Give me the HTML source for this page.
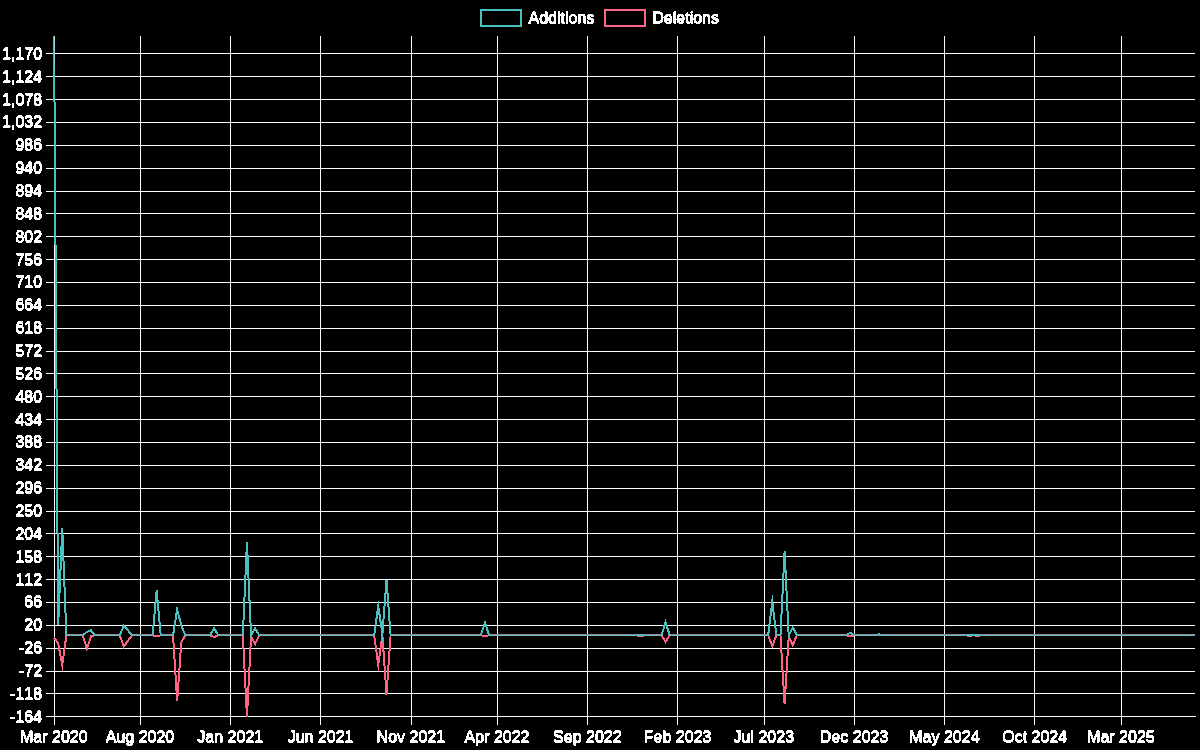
<!DOCTYPE html>
<html lang="en"><head><meta charset="utf-8"><title>Code frequency</title>
<style>html,body{margin:0;padding:0;background:#000;overflow:hidden}svg{display:block}text{font-family:"Liberation Sans",sans-serif;font-size:16px;fill:#fff;font-kerning:none}.g{stroke:#fcfcfc;stroke-width:1;shape-rendering:crispEdges}</style></head><body>
<svg width="1200" height="750" viewBox="0 0 1200 750">
<rect width="1200" height="750" fill="#000"/>
<g class="g">
<line x1="54.5" y1="36" x2="54.5" y2="724.8"/>
<line x1="140.5" y1="36" x2="140.5" y2="724.8"/>
<line x1="230.5" y1="36" x2="230.5" y2="724.8"/>
<line x1="320.5" y1="36" x2="320.5" y2="724.8"/>
<line x1="411.5" y1="36" x2="411.5" y2="724.8"/>
<line x1="497.5" y1="36" x2="497.5" y2="724.8"/>
<line x1="587.5" y1="36" x2="587.5" y2="724.8"/>
<line x1="677.5" y1="36" x2="677.5" y2="724.8"/>
<line x1="764.5" y1="36" x2="764.5" y2="724.8"/>
<line x1="854.5" y1="36" x2="854.5" y2="724.8"/>
<line x1="944.5" y1="36" x2="944.5" y2="724.8"/>
<line x1="1034.5" y1="36" x2="1034.5" y2="724.8"/>
<line x1="1121.5" y1="36" x2="1121.5" y2="724.8"/>
<line x1="46.05" y1="716.5" x2="1196" y2="716.5"/>
<line x1="46.05" y1="693.5" x2="1195" y2="693.5"/>
<line x1="46.05" y1="671.5" x2="1195" y2="671.5"/>
<line x1="46.05" y1="648.5" x2="1195" y2="648.5"/>
<line x1="46.05" y1="625.5" x2="1195" y2="625.5"/>
<line x1="46.05" y1="602.5" x2="1195" y2="602.5"/>
<line x1="46.05" y1="579.5" x2="1195" y2="579.5"/>
<line x1="46.05" y1="556.5" x2="1195" y2="556.5"/>
<line x1="46.05" y1="533.5" x2="1195" y2="533.5"/>
<line x1="46.05" y1="511.5" x2="1195" y2="511.5"/>
<line x1="46.05" y1="488.5" x2="1195" y2="488.5"/>
<line x1="46.05" y1="465.5" x2="1195" y2="465.5"/>
<line x1="46.05" y1="442.5" x2="1195" y2="442.5"/>
<line x1="46.05" y1="419.5" x2="1195" y2="419.5"/>
<line x1="46.05" y1="396.5" x2="1195" y2="396.5"/>
<line x1="46.05" y1="373.5" x2="1195" y2="373.5"/>
<line x1="46.05" y1="351.5" x2="1195" y2="351.5"/>
<line x1="46.05" y1="328.5" x2="1195" y2="328.5"/>
<line x1="46.05" y1="305.5" x2="1195" y2="305.5"/>
<line x1="46.05" y1="282.5" x2="1195" y2="282.5"/>
<line x1="46.05" y1="259.5" x2="1195" y2="259.5"/>
<line x1="46.05" y1="236.5" x2="1195" y2="236.5"/>
<line x1="46.05" y1="213.5" x2="1195" y2="213.5"/>
<line x1="46.05" y1="191.5" x2="1195" y2="191.5"/>
<line x1="46.05" y1="168.5" x2="1195" y2="168.5"/>
<line x1="46.05" y1="145.5" x2="1195" y2="145.5"/>
<line x1="46.05" y1="122.5" x2="1195" y2="122.5"/>
<line x1="46.05" y1="99.5" x2="1195" y2="99.5"/>
<line x1="46.05" y1="76.5" x2="1195" y2="76.5"/>
<line x1="46.05" y1="53.5" x2="1195" y2="53.5"/>
</g>
<defs><clipPath id="c"><rect x="53.05" y="36" width="1142.95" height="681.8"/></clipPath></defs>
<g clip-path="url(#c)" fill="none" stroke-width="2" stroke-linejoin="miter" stroke-miterlimit="10" stroke-linecap="butt" shape-rendering="crispEdges">
<path stroke="rgb(255,99,132)" d="M54.05 637.79 L58.15 643.25 L62.26 665.12 L66.36 635.3 L70.47 635.3 L74.57 635.3 L78.67 635.3 L82.78 635.3 L86.88 648.72 L90.99 636.3 L95.09 635.3 L99.2 635.3 L103.3 635.3 L107.4 635.3 L111.51 635.3 L115.61 635.3 L119.72 635.3 L123.82 646.73 L127.92 640.77 L132.03 635.3 L136.13 635.3 L140.24 635.3 L144.34 635.3 L148.45 635.3 L152.55 635.3 L156.65 636.3 L160.76 635.3 L164.86 635.3 L168.97 635.3 L173.07 635.3 L177.17 701.4 L181.28 642.26 L185.38 635.3 L189.49 635.3 L193.59 635.3 L197.69 635.3 L201.8 635.3 L205.9 635.3 L210.01 635.3 L214.11 637.04 L218.22 635.3 L222.32 635.3 L226.42 635.3 L230.53 635.3 L234.63 635.3 L238.74 635.3 L242.84 635.3 L246.94 716.8 L251.05 636.79 L255.15 644 L259.26 635.3 L263.36 635.3 L267.47 635.3 L271.57 635.3 L275.67 635.3 L279.78 635.3 L283.88 635.3 L287.99 635.3 L292.09 635.3 L296.19 635.3 L300.3 635.3 L304.4 635.3 L308.51 635.3 L312.61 635.3 L316.71 635.3 L320.82 635.3 L324.92 635.3 L329.03 635.3 L333.13 635.3 L337.24 635.3 L341.34 635.3 L345.44 635.3 L349.55 635.3 L353.65 635.3 L357.76 635.3 L361.86 635.3 L365.96 635.3 L370.07 635.3 L374.17 635.3 L378.28 665.12 L382.38 635.3 L386.49 694.44 L390.59 635.3 L394.69 635.3 L398.8 635.3 L402.9 635.3 L407.01 635.3 L411.11 635.3 L415.21 635.3 L419.32 635.3 L423.42 635.3 L427.53 635.3 L431.63 635.3 L435.73 635.3 L439.84 635.3 L443.94 635.3 L448.05 635.3 L452.15 635.3 L456.26 635.3 L460.36 635.3 L464.46 635.3 L468.57 635.3 L472.67 635.3 L476.78 635.3 L480.88 635.3 L484.98 636.3 L489.09 635.3 L493.19 635.3 L497.3 635.3 L501.4 635.3 L505.51 635.3 L509.61 635.3 L513.71 635.3 L517.82 635.3 L521.92 635.3 L526.03 635.3 L530.13 635.3 L534.23 635.3 L538.34 635.3 L542.44 635.3 L546.55 635.3 L550.65 635.3 L554.75 635.3 L558.86 635.3 L562.96 635.3 L567.07 635.3 L571.17 635.3 L575.28 635.3 L579.38 635.3 L583.48 635.3 L587.59 635.3 L591.69 635.3 L595.8 635.3 L599.9 635.3 L604 635.3 L608.11 635.3 L612.21 635.3 L616.32 635.3 L620.42 635.3 L624.52 635.3 L628.63 635.3 L632.73 635.3 L636.84 635.3 L640.94 636.5 L645.05 635.3 L649.15 635.3 L653.25 635.3 L657.36 635.3 L661.46 635.3 L665.57 641.76 L669.67 635.3 L673.77 635.3 L677.88 635.3 L681.98 635.3 L686.09 635.3 L690.19 635.3 L694.3 635.3 L698.4 635.3 L702.5 635.3 L706.61 635.3 L710.71 635.3 L714.82 635.3 L718.92 635.3 L723.02 635.3 L727.13 635.3 L731.23 635.3 L735.34 635.3 L739.44 635.3 L743.54 635.3 L747.65 635.3 L751.75 635.3 L755.86 635.3 L759.96 635.3 L764.07 635.3 L768.17 635.3 L772.27 646.24 L776.38 635.3 L780.48 635.3 L784.59 704.38 L788.69 636.79 L792.79 645.24 L796.9 635.3 L801 635.3 L805.11 635.3 L809.21 635.3 L813.32 635.3 L817.42 635.3 L821.52 635.3 L825.63 635.3 L829.73 635.3 L833.84 635.3 L837.94 635.3 L842.04 635.3 L846.15 635.3 L850.25 636.3 L854.36 635.3 L858.46 635.3 L862.56 635.3 L866.67 635.3 L870.77 635.3 L874.88 635.3 L878.98 635.3 L883.09 635.3 L887.19 635.3 L891.29 635.3 L895.4 635.3 L899.5 635.3 L903.61 635.3 L907.71 635.3 L911.81 635.3 L915.92 635.3 L920.02 635.3 L924.13 635.3 L928.23 635.3 L932.34 635.3 L936.44 635.3 L940.54 635.3 L944.65 635.3 L948.75 635.3 L952.86 635.3 L956.96 635.3 L961.06 635.3 L965.17 635.3 L969.27 635.9 L973.38 635.3 L977.48 635.9 L981.58 635.3 L985.69 635.3 L989.79 635.3 L993.9 635.3 L998 635.3 L1002.11 635.3 L1006.21 635.3 L1010.31 635.3 L1014.42 635.3 L1018.52 635.3 L1022.63 635.3 L1026.73 635.3 L1030.83 635.3 L1034.94 635.3 L1039.04 635.3 L1043.15 635.3 L1047.25 635.3 L1051.36 635.3 L1055.46 635.3 L1059.56 635.3 L1063.67 635.3 L1067.77 635.3 L1071.88 635.3 L1075.98 635.3 L1080.08 635.3 L1084.19 635.3 L1088.29 635.3 L1092.4 635.3 L1096.5 635.3 L1100.6 635.3 L1104.71 635.3 L1108.81 635.3 L1112.92 635.3 L1117.02 635.3 L1121.13 635.3 L1125.23 635.3 L1129.33 635.3 L1133.44 635.3 L1137.54 635.3 L1141.65 635.3 L1145.75 635.3 L1149.85 635.3 L1153.96 635.3 L1158.06 635.3 L1162.17 635.3 L1166.27 635.3 L1170.38 635.3 L1174.48 635.3 L1178.58 635.3 L1182.69 635.3 L1186.79 635.3 L1190.9 635.3 L1195 635.3"/>
<path stroke="rgb(75,192,192)" d="M54.05 36 L58.15 625.36 L62.26 528.46 L66.36 635.3 L70.47 635.3 L74.57 635.3 L78.67 635.3 L82.78 635.3 L86.88 631.82 L90.99 630.33 L95.09 635.3 L99.2 635.3 L103.3 635.3 L107.4 635.3 L111.51 635.3 L115.61 635.3 L119.72 635.3 L123.82 625.86 L127.92 630.33 L132.03 635.3 L136.13 635.3 L140.24 635.3 L144.34 635.3 L148.45 635.3 L152.55 635.3 L156.65 590.33 L160.76 635.3 L164.86 635.3 L168.97 635.3 L173.07 635.3 L177.17 609.46 L181.28 625.36 L185.38 635.3 L189.49 635.3 L193.59 635.3 L197.69 635.3 L201.8 635.3 L205.9 635.3 L210.01 635.3 L214.11 628.35 L218.22 635.3 L222.32 635.3 L226.42 635.3 L230.53 635.3 L234.63 635.3 L238.74 635.3 L242.84 635.3 L246.94 542.38 L251.05 635.3 L255.15 628.35 L259.26 635.3 L263.36 635.3 L267.47 635.3 L271.57 635.3 L275.67 635.3 L279.78 635.3 L283.88 635.3 L287.99 635.3 L292.09 635.3 L296.19 635.3 L300.3 635.3 L304.4 635.3 L308.51 635.3 L312.61 635.3 L316.71 635.3 L320.82 635.3 L324.92 635.3 L329.03 635.3 L333.13 635.3 L337.24 635.3 L341.34 635.3 L345.44 635.3 L349.55 635.3 L353.65 635.3 L357.76 635.3 L361.86 635.3 L365.96 635.3 L370.07 635.3 L374.17 635.3 L378.28 605.98 L382.38 634.31 L386.49 579.65 L390.59 635.3 L394.69 635.3 L398.8 635.3 L402.9 635.3 L407.01 635.3 L411.11 635.3 L415.21 635.3 L419.32 635.3 L423.42 635.3 L427.53 635.3 L431.63 635.3 L435.73 635.3 L439.84 635.3 L443.94 635.3 L448.05 635.3 L452.15 635.3 L456.26 635.3 L460.36 635.3 L464.46 635.3 L468.57 635.3 L472.67 635.3 L476.78 635.3 L480.88 635.3 L484.98 622.38 L489.09 635.3 L493.19 635.3 L497.3 635.3 L501.4 635.3 L505.51 635.3 L509.61 635.3 L513.71 635.3 L517.82 635.3 L521.92 635.3 L526.03 635.3 L530.13 635.3 L534.23 635.3 L538.34 635.3 L542.44 635.3 L546.55 635.3 L550.65 635.3 L554.75 635.3 L558.86 635.3 L562.96 635.3 L567.07 635.3 L571.17 635.3 L575.28 635.3 L579.38 635.3 L583.48 635.3 L587.59 635.3 L591.69 635.3 L595.8 635.3 L599.9 635.3 L604 635.3 L608.11 635.3 L612.21 635.3 L616.32 635.3 L620.42 635.3 L624.52 635.3 L628.63 635.3 L632.73 635.3 L636.84 635.3 L640.94 634.81 L645.05 635.3 L649.15 635.3 L653.25 635.3 L657.36 635.3 L661.46 635.3 L665.57 622.13 L669.67 635.3 L673.77 635.3 L677.88 635.3 L681.98 635.3 L686.09 635.3 L690.19 635.3 L694.3 635.3 L698.4 635.3 L702.5 635.3 L706.61 635.3 L710.71 635.3 L714.82 635.3 L718.92 635.3 L723.02 635.3 L727.13 635.3 L731.23 635.3 L735.34 635.3 L739.44 635.3 L743.54 635.3 L747.65 635.3 L751.75 635.3 L755.86 635.3 L759.96 635.3 L764.07 635.3 L768.17 635.3 L772.27 601.51 L776.38 635.3 L780.48 635.3 L784.59 551.32 L788.69 635.3 L792.79 627.35 L796.9 635.3 L801 635.3 L805.11 635.3 L809.21 635.3 L813.32 635.3 L817.42 635.3 L821.52 635.3 L825.63 635.3 L829.73 635.3 L833.84 635.3 L837.94 635.3 L842.04 635.3 L846.15 635.3 L850.25 632.82 L854.36 635.3 L858.46 635.3 L862.56 635.3 L866.67 635.3 L870.77 635.3 L874.88 635.3 L878.98 634.31 L883.09 635.3 L887.19 635.3 L891.29 635.3 L895.4 635.3 L899.5 635.3 L903.61 635.3 L907.71 635.3 L911.81 635.3 L915.92 635.3 L920.02 635.3 L924.13 635.3 L928.23 635.3 L932.34 635.3 L936.44 635.3 L940.54 635.3 L944.65 635.3 L948.75 635.3 L952.86 635.3 L956.96 635.3 L961.06 635.3 L965.17 635.3 L969.27 634.81 L973.38 635.3 L977.48 634.81 L981.58 635.3 L985.69 635.3 L989.79 635.3 L993.9 635.3 L998 635.3 L1002.11 635.3 L1006.21 635.3 L1010.31 635.3 L1014.42 635.3 L1018.52 635.3 L1022.63 635.3 L1026.73 635.3 L1030.83 635.3 L1034.94 635.3 L1039.04 635.3 L1043.15 635.3 L1047.25 635.3 L1051.36 635.3 L1055.46 635.3 L1059.56 635.3 L1063.67 635.3 L1067.77 635.3 L1071.88 635.3 L1075.98 635.3 L1080.08 635.3 L1084.19 635.3 L1088.29 635.3 L1092.4 635.3 L1096.5 635.3 L1100.6 635.3 L1104.71 635.3 L1108.81 635.3 L1112.92 635.3 L1117.02 635.3 L1121.13 635.3 L1125.23 635.3 L1129.33 635.3 L1133.44 635.3 L1137.54 635.3 L1141.65 635.3 L1145.75 635.3 L1149.85 635.3 L1153.96 635.3 L1158.06 635.3 L1162.17 635.3 L1166.27 635.3 L1170.38 635.3 L1174.48 635.3 L1178.58 635.3 L1182.69 635.3 L1186.79 635.3 L1190.9 635.3 L1195 635.3"/>
</g>
<defs><linearGradient id="ag" x1="0" y1="0" x2="0" y2="1"><stop offset="0" stop-color="#fff" stop-opacity="0.5"/><stop offset="1" stop-color="#fff" stop-opacity="0"/></linearGradient></defs>
<rect x="54" y="36" width="1" height="50" fill="url(#ag)" shape-rendering="crispEdges"/>
<g shape-rendering="crispEdges">
<rect x="66.35" y="634" width="16.5" height="1" fill="rgb(150,141,160)"/>
<rect x="66.35" y="635" width="16.5" height="1" fill="rgb(100,186,190)"/>
<rect x="94.88" y="634" width="24.92" height="1" fill="rgb(150,141,160)"/>
<rect x="94.88" y="635" width="24.92" height="1" fill="rgb(100,186,190)"/>
<rect x="131.84" y="634" width="20.73" height="1" fill="rgb(150,141,160)"/>
<rect x="131.84" y="635" width="20.73" height="1" fill="rgb(100,186,190)"/>
<rect x="160.73" y="634" width="12.35" height="1" fill="rgb(150,141,160)"/>
<rect x="160.73" y="635" width="12.35" height="1" fill="rgb(100,186,190)"/>
<rect x="185.28" y="634" width="24.88" height="1" fill="rgb(150,141,160)"/>
<rect x="185.28" y="635" width="24.88" height="1" fill="rgb(100,186,190)"/>
<rect x="218.07" y="634" width="24.78" height="1" fill="rgb(150,141,160)"/>
<rect x="218.07" y="635" width="24.78" height="1" fill="rgb(100,186,190)"/>
<rect x="259.14" y="634" width="115.07" height="1" fill="rgb(150,141,160)"/>
<rect x="259.14" y="635" width="115.07" height="1" fill="rgb(100,186,190)"/>
<rect x="390.57" y="634" width="90.39" height="1" fill="rgb(150,141,160)"/>
<rect x="390.57" y="635" width="90.39" height="1" fill="rgb(100,186,190)"/>
<rect x="489.01" y="634" width="148.69" height="1" fill="rgb(150,141,160)"/>
<rect x="489.01" y="635" width="148.69" height="1" fill="rgb(100,186,190)"/>
<rect x="644.19" y="634" width="17.35" height="1" fill="rgb(150,141,160)"/>
<rect x="644.19" y="635" width="17.35" height="1" fill="rgb(100,186,190)"/>
<rect x="669.59" y="634" width="98.61" height="1" fill="rgb(150,141,160)"/>
<rect x="669.59" y="635" width="98.61" height="1" fill="rgb(100,186,190)"/>
<rect x="776.35" y="634" width="4.15" height="1" fill="rgb(150,141,160)"/>
<rect x="776.35" y="635" width="4.15" height="1" fill="rgb(100,186,190)"/>
<rect x="796.8" y="634" width="49.77" height="1" fill="rgb(150,141,160)"/>
<rect x="796.8" y="635" width="49.77" height="1" fill="rgb(100,186,190)"/>
<rect x="853.94" y="634" width="21.97" height="1" fill="rgb(150,141,160)"/>
<rect x="853.94" y="635" width="21.97" height="1" fill="rgb(100,186,190)"/>
<rect x="882.05" y="634" width="84.35" height="1" fill="rgb(150,141,160)"/>
<rect x="882.05" y="635" width="84.35" height="1" fill="rgb(100,186,190)"/>
<rect x="980.35" y="634" width="214.65" height="1" fill="rgb(150,141,160)"/>
<rect x="980.35" y="635" width="214.65" height="1" fill="rgb(100,186,190)"/>
</g>
<g fill="none" stroke-width="2" shape-rendering="crispEdges">
<rect x="481" y="10" width="40" height="16" stroke="rgb(75,192,192)"/>
<rect x="605" y="10" width="40" height="16" stroke="rgb(255,99,132)"/>
</g>
<filter id="tf" x="0" y="0" width="1200" height="750" filterUnits="userSpaceOnUse" color-interpolation-filters="sRGB"><feComponentTransfer><feFuncA type="discrete" tableValues="0 1"/></feComponentTransfer></filter>
<g class="t" filter="url(#tf)">
<g transform="translate(0 0)">
<text x="42.35" y="723" text-anchor="end">-164</text>
<text x="42.35" y="700" text-anchor="end">-118</text>
<text x="42.35" y="677" text-anchor="end">-72</text>
<text x="42.35" y="654" text-anchor="end">-26</text>
<text x="42.35" y="631" text-anchor="end">20</text>
<text x="42.35" y="608" text-anchor="end">66</text>
<text x="42.35" y="586" text-anchor="end">112</text>
<text x="42.35" y="563" text-anchor="end">158</text>
<text x="42.35" y="540" text-anchor="end">204</text>
<text x="42.35" y="517" text-anchor="end">250</text>
<text x="42.35" y="494" text-anchor="end">296</text>
<text x="42.35" y="471" text-anchor="end">342</text>
<text x="42.35" y="448" text-anchor="end">388</text>
<text x="42.35" y="426" text-anchor="end">434</text>
<text x="42.35" y="403" text-anchor="end">480</text>
<text x="42.35" y="380" text-anchor="end">526</text>
<text x="42.35" y="357" text-anchor="end">572</text>
<text x="42.35" y="334" text-anchor="end">618</text>
<text x="42.35" y="311" text-anchor="end">664</text>
<text x="42.35" y="288" text-anchor="end">710</text>
<text x="42.35" y="266" text-anchor="end">756</text>
<text x="42.35" y="243" text-anchor="end">802</text>
<text x="42.35" y="220" text-anchor="end">848</text>
<text x="42.35" y="197" text-anchor="end">894</text>
<text x="42.35" y="174" text-anchor="end">940</text>
<text x="42.35" y="151" text-anchor="end">986</text>
<text x="42.35" y="128" text-anchor="end">1,032</text>
<text x="42.35" y="106" text-anchor="end">1,078</text>
<text x="42.35" y="83" text-anchor="end">1,124</text>
<text x="42.35" y="60" text-anchor="end">1,170</text>
<text x="54.05" y="743" text-anchor="middle">Mar 2020</text>
<text x="140.24" y="743" text-anchor="middle">Aug 2020</text>
<text x="230.53" y="743" text-anchor="middle">Jan 2021</text>
<text x="320.82" y="743" text-anchor="middle">Jun 2021</text>
<text x="411.11" y="743" text-anchor="middle">Nov 2021</text>
<text x="497.3" y="743" text-anchor="middle">Apr 2022</text>
<text x="587.59" y="743" text-anchor="middle">Sep 2022</text>
<text x="677.88" y="743" text-anchor="middle">Feb 2023</text>
<text x="764.07" y="743" text-anchor="middle">Jul 2023</text>
<text x="854.36" y="743" text-anchor="middle">Dec 2023</text>
<text x="944.65" y="743" text-anchor="middle">May 2024</text>
<text x="1034.94" y="743" text-anchor="middle">Oct 2024</text>
<text x="1121.13" y="743" text-anchor="middle">Mar 2025</text>
<text x="528.75" y="24" text-anchor="start">Additions</text>
<text x="652.55" y="24" text-anchor="start">Deletions</text>
</g>
<g transform="translate(-0.5 0)" aria-hidden="true">
<text x="42.35" y="723" text-anchor="end">-164</text>
<text x="42.35" y="700" text-anchor="end">-118</text>
<text x="42.35" y="677" text-anchor="end">-72</text>
<text x="42.35" y="654" text-anchor="end">-26</text>
<text x="42.35" y="631" text-anchor="end">20</text>
<text x="42.35" y="608" text-anchor="end">66</text>
<text x="42.35" y="586" text-anchor="end">112</text>
<text x="42.35" y="563" text-anchor="end">158</text>
<text x="42.35" y="540" text-anchor="end">204</text>
<text x="42.35" y="517" text-anchor="end">250</text>
<text x="42.35" y="494" text-anchor="end">296</text>
<text x="42.35" y="471" text-anchor="end">342</text>
<text x="42.35" y="448" text-anchor="end">388</text>
<text x="42.35" y="426" text-anchor="end">434</text>
<text x="42.35" y="403" text-anchor="end">480</text>
<text x="42.35" y="380" text-anchor="end">526</text>
<text x="42.35" y="357" text-anchor="end">572</text>
<text x="42.35" y="334" text-anchor="end">618</text>
<text x="42.35" y="311" text-anchor="end">664</text>
<text x="42.35" y="288" text-anchor="end">710</text>
<text x="42.35" y="266" text-anchor="end">756</text>
<text x="42.35" y="243" text-anchor="end">802</text>
<text x="42.35" y="220" text-anchor="end">848</text>
<text x="42.35" y="197" text-anchor="end">894</text>
<text x="42.35" y="174" text-anchor="end">940</text>
<text x="42.35" y="151" text-anchor="end">986</text>
<text x="42.35" y="128" text-anchor="end">1,032</text>
<text x="42.35" y="106" text-anchor="end">1,078</text>
<text x="42.35" y="83" text-anchor="end">1,124</text>
<text x="42.35" y="60" text-anchor="end">1,170</text>
<text x="54.05" y="743" text-anchor="middle">Mar 2020</text>
<text x="140.24" y="743" text-anchor="middle">Aug 2020</text>
<text x="230.53" y="743" text-anchor="middle">Jan 2021</text>
<text x="320.82" y="743" text-anchor="middle">Jun 2021</text>
<text x="411.11" y="743" text-anchor="middle">Nov 2021</text>
<text x="497.3" y="743" text-anchor="middle">Apr 2022</text>
<text x="587.59" y="743" text-anchor="middle">Sep 2022</text>
<text x="677.88" y="743" text-anchor="middle">Feb 2023</text>
<text x="764.07" y="743" text-anchor="middle">Jul 2023</text>
<text x="854.36" y="743" text-anchor="middle">Dec 2023</text>
<text x="944.65" y="743" text-anchor="middle">May 2024</text>
<text x="1034.94" y="743" text-anchor="middle">Oct 2024</text>
<text x="1121.13" y="743" text-anchor="middle">Mar 2025</text>
<text x="528.75" y="24" text-anchor="start">Additions</text>
<text x="652.55" y="24" text-anchor="start">Deletions</text>
</g>
<g transform="translate(0 -1)" aria-hidden="true">
<text x="42.35" y="723" text-anchor="end">-164</text>
<text x="42.35" y="700" text-anchor="end">-118</text>
<text x="42.35" y="677" text-anchor="end">-72</text>
<text x="42.35" y="654" text-anchor="end">-26</text>
<text x="42.35" y="631" text-anchor="end">20</text>
<text x="42.35" y="608" text-anchor="end">66</text>
<text x="42.35" y="586" text-anchor="end">112</text>
<text x="42.35" y="563" text-anchor="end">158</text>
<text x="42.35" y="540" text-anchor="end">204</text>
<text x="42.35" y="517" text-anchor="end">250</text>
<text x="42.35" y="494" text-anchor="end">296</text>
<text x="42.35" y="471" text-anchor="end">342</text>
<text x="42.35" y="448" text-anchor="end">388</text>
<text x="42.35" y="426" text-anchor="end">434</text>
<text x="42.35" y="403" text-anchor="end">480</text>
<text x="42.35" y="380" text-anchor="end">526</text>
<text x="42.35" y="357" text-anchor="end">572</text>
<text x="42.35" y="334" text-anchor="end">618</text>
<text x="42.35" y="311" text-anchor="end">664</text>
<text x="42.35" y="288" text-anchor="end">710</text>
<text x="42.35" y="266" text-anchor="end">756</text>
<text x="42.35" y="243" text-anchor="end">802</text>
<text x="42.35" y="220" text-anchor="end">848</text>
<text x="42.35" y="197" text-anchor="end">894</text>
<text x="42.35" y="174" text-anchor="end">940</text>
<text x="42.35" y="151" text-anchor="end">986</text>
<text x="42.35" y="128" text-anchor="end">1,032</text>
<text x="42.35" y="106" text-anchor="end">1,078</text>
<text x="42.35" y="83" text-anchor="end">1,124</text>
<text x="42.35" y="60" text-anchor="end">1,170</text>
<text x="54.05" y="743" text-anchor="middle">Mar 2020</text>
<text x="140.24" y="743" text-anchor="middle">Aug 2020</text>
<text x="230.53" y="743" text-anchor="middle">Jan 2021</text>
<text x="320.82" y="743" text-anchor="middle">Jun 2021</text>
<text x="411.11" y="743" text-anchor="middle">Nov 2021</text>
<text x="497.3" y="743" text-anchor="middle">Apr 2022</text>
<text x="587.59" y="743" text-anchor="middle">Sep 2022</text>
<text x="677.88" y="743" text-anchor="middle">Feb 2023</text>
<text x="764.07" y="743" text-anchor="middle">Jul 2023</text>
<text x="854.36" y="743" text-anchor="middle">Dec 2023</text>
<text x="944.65" y="743" text-anchor="middle">May 2024</text>
<text x="1034.94" y="743" text-anchor="middle">Oct 2024</text>
<text x="1121.13" y="743" text-anchor="middle">Mar 2025</text>
<text x="528.75" y="24" text-anchor="start">Additions</text>
<text x="652.55" y="24" text-anchor="start">Deletions</text>
</g>
<g transform="translate(-0.5 -1)" aria-hidden="true">
<text x="42.35" y="723" text-anchor="end">-164</text>
<text x="42.35" y="700" text-anchor="end">-118</text>
<text x="42.35" y="677" text-anchor="end">-72</text>
<text x="42.35" y="654" text-anchor="end">-26</text>
<text x="42.35" y="631" text-anchor="end">20</text>
<text x="42.35" y="608" text-anchor="end">66</text>
<text x="42.35" y="586" text-anchor="end">112</text>
<text x="42.35" y="563" text-anchor="end">158</text>
<text x="42.35" y="540" text-anchor="end">204</text>
<text x="42.35" y="517" text-anchor="end">250</text>
<text x="42.35" y="494" text-anchor="end">296</text>
<text x="42.35" y="471" text-anchor="end">342</text>
<text x="42.35" y="448" text-anchor="end">388</text>
<text x="42.35" y="426" text-anchor="end">434</text>
<text x="42.35" y="403" text-anchor="end">480</text>
<text x="42.35" y="380" text-anchor="end">526</text>
<text x="42.35" y="357" text-anchor="end">572</text>
<text x="42.35" y="334" text-anchor="end">618</text>
<text x="42.35" y="311" text-anchor="end">664</text>
<text x="42.35" y="288" text-anchor="end">710</text>
<text x="42.35" y="266" text-anchor="end">756</text>
<text x="42.35" y="243" text-anchor="end">802</text>
<text x="42.35" y="220" text-anchor="end">848</text>
<text x="42.35" y="197" text-anchor="end">894</text>
<text x="42.35" y="174" text-anchor="end">940</text>
<text x="42.35" y="151" text-anchor="end">986</text>
<text x="42.35" y="128" text-anchor="end">1,032</text>
<text x="42.35" y="106" text-anchor="end">1,078</text>
<text x="42.35" y="83" text-anchor="end">1,124</text>
<text x="42.35" y="60" text-anchor="end">1,170</text>
<text x="54.05" y="743" text-anchor="middle">Mar 2020</text>
<text x="140.24" y="743" text-anchor="middle">Aug 2020</text>
<text x="230.53" y="743" text-anchor="middle">Jan 2021</text>
<text x="320.82" y="743" text-anchor="middle">Jun 2021</text>
<text x="411.11" y="743" text-anchor="middle">Nov 2021</text>
<text x="497.3" y="743" text-anchor="middle">Apr 2022</text>
<text x="587.59" y="743" text-anchor="middle">Sep 2022</text>
<text x="677.88" y="743" text-anchor="middle">Feb 2023</text>
<text x="764.07" y="743" text-anchor="middle">Jul 2023</text>
<text x="854.36" y="743" text-anchor="middle">Dec 2023</text>
<text x="944.65" y="743" text-anchor="middle">May 2024</text>
<text x="1034.94" y="743" text-anchor="middle">Oct 2024</text>
<text x="1121.13" y="743" text-anchor="middle">Mar 2025</text>
<text x="528.75" y="24" text-anchor="start">Additions</text>
<text x="652.55" y="24" text-anchor="start">Deletions</text>
</g>
</g>
</svg></body></html>
